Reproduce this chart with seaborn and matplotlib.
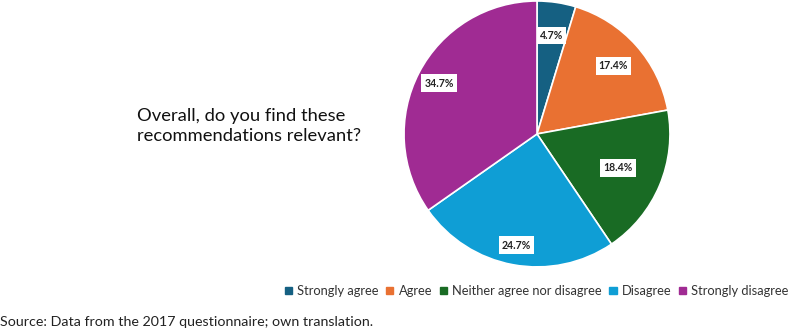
import matplotlib
matplotlib.use("Agg")
import matplotlib.pyplot as plt
import seaborn as sns
import numpy as np

categories = ["Strongly agree", "Agree", "Neither agree nor disagree", "Disagree", "Strongly disagree"]
values = [4.7, 17.4, 18.4, 24.7, 34.7]
colors = ["#156082", "#E97132", "#196B24", "#0F9ED5", "#A02B93"]
label_dist = [0.75, 0.77, 0.66, 0.85, 0.83]
question = "Overall, do you find these\nrecommendations relevant?"
source = "Source: Data from the 2017 questionnaire; own translation."

sns.set_theme(style="white")
plt.rcParams["font.family"] = ["Lato", "DejaVu Sans"]

fig = plt.figure(figsize=(8, 3.32), dpi=100)
ax = fig.add_axes([0.505, 0.196, 0.3325, 0.801])
wedges, _ = ax.pie(values, colors=colors, startangle=90, counterclock=False,
                   wedgeprops=dict(edgecolor="white", linewidth=1.2))
ax.set_aspect("equal")
ax.set_xlim(-1.0, 1.0)
ax.set_ylim(-1.0, 1.0)

for w, v, d in zip(wedges, values, label_dist):
    ang = np.deg2rad((w.theta1 + w.theta2) / 2)
    ax.text(d * np.cos(ang), d * np.sin(ang), f"{v:.1f}%", ha="center", va="center",
            fontsize=7.6, fontweight="bold", color="#222222",
            bbox=dict(boxstyle="square,pad=0.3", fc="white", ec="none"))

fig.text(0.171, 0.62, question, ha="left", va="center", fontsize=13.2,
         color="#111111", linespacing=1.3)

handles = [plt.Rectangle((0, 0), 1, 1, color=c) for c in colors]
fig.legend(handles, categories, loc="center", bbox_to_anchor=(0.671, 0.123), ncol=5,
           frameon=False, fontsize=9.3, handlelength=0.55, handleheight=0.55,
           handletextpad=0.4, columnspacing=0.6, labelcolor="#333333")

fig.text(0.0, 0.03, source, ha="left", va="center", fontsize=10.3, color="#222222",
         family=["Lato", "DejaVu Sans"])

fig.savefig("out.png", dpi=100)
